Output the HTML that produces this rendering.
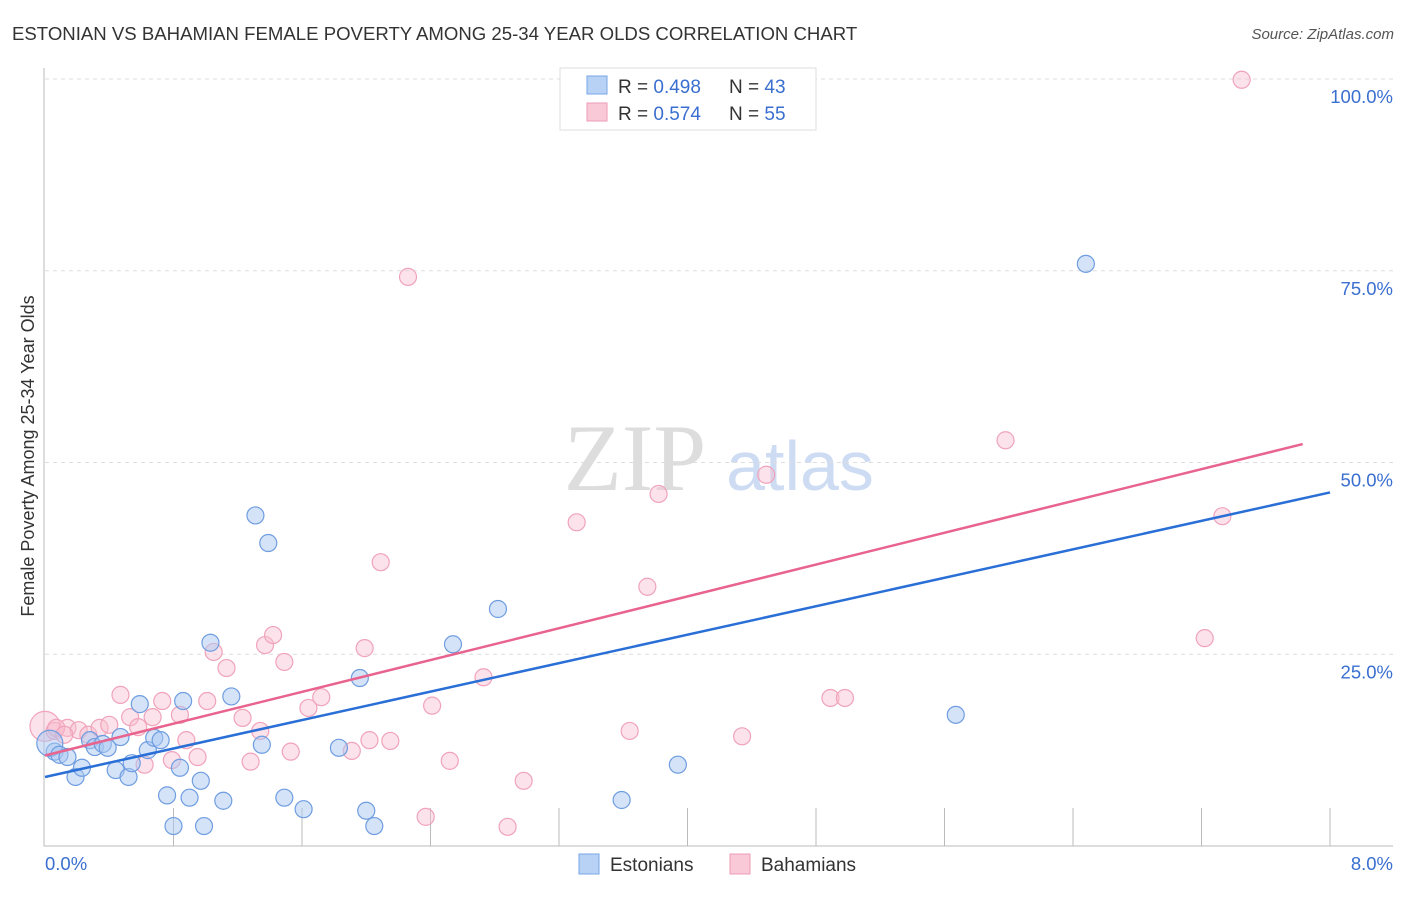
<!DOCTYPE html>
<html><head><meta charset="utf-8"><style>
body{margin:0;background:#fff;font-family:"Liberation Sans",sans-serif}
</style></head><body>
<svg width="1406" height="892" id="c" xmlns="http://www.w3.org/2000/svg">
<text x="12" y="40" font-size="18.6" fill="#333">ESTONIAN VS BAHAMIAN FEMALE POVERTY AMONG 25-34 YEAR OLDS CORRELATION CHART</text>
<text x="1394" y="39" font-size="15" fill="#555" font-style="italic" text-anchor="end">Source: ZipAtlas.com</text>
<text x="635" y="490" font-size="95" fill="#ddd" font-family="Liberation Serif" text-anchor="middle">ZIP</text>
<text x="800" y="490" font-size="70" fill="#cddcf3" text-anchor="middle">atlas</text>
<g id="grid"></g><g id="pts"></g><g id="lines"></g>
<text transform="translate(34,456) rotate(-90)" font-size="18" fill="#333" text-anchor="middle">Female Poverty Among 25-34 Year Olds</text>
<rect x="560" y="68" width="256" height="62" fill="#fff" stroke="#ddd"/>
<rect x="587" y="76" width="20" height="18" fill="#b8d2f5" stroke="#7aa6e6"/>
<rect x="587" y="103" width="20" height="18" fill="#f9c9d8" stroke="#ee9bb5"/>
<text x="618" y="93" font-size="19" fill="#333">R = <tspan fill="#3a6fd0">0.498</tspan></text>
<text x="729" y="93" font-size="19" fill="#333">N = <tspan fill="#3a6fd0">43</tspan></text>
<text x="618" y="120" font-size="19" fill="#333">R = <tspan fill="#3a6fd0">0.574</tspan></text>
<text x="729" y="120" font-size="19" fill="#333">N = <tspan fill="#3a6fd0">55</tspan></text>
<rect x="579" y="854" width="20" height="20" fill="#b8d2f5" stroke="#7aa6e6"/>
<text x="610" y="871" font-size="19" fill="#333">Estonians</text>
<rect x="730" y="854" width="20" height="20" fill="#f9c9d8" stroke="#ee9bb5"/>
<text x="761" y="871" font-size="19" fill="#333">Bahamians</text>
</svg>
<script>
const xTicks=[0,8];
const yTicks=[25,50,75,100];
const estX=[0.06,0.03,0.09,0.14,0.19,0.23,0.28,0.31,0.36,0.39,0.44,0.47,0.52,0.54,0.59,0.64,0.68,0.72,0.76,0.80,0.84,0.86,0.90,0.97,0.99,1.03,1.11,1.16,1.31,1.35,1.39,1.49,1.61,1.83,1.96,2.00,2.05,2.54,2.82,3.59,3.94,5.67,6.48];
const estY=[12.3,13.4,11.9,11.6,9.0,10.2,13.8,12.9,13.3,12.8,9.9,14.2,9.0,10.8,18.5,12.5,14.1,13.8,6.6,2.6,10.2,18.9,6.3,8.5,2.6,26.5,5.9,19.5,43.1,13.2,39.5,6.3,4.8,12.8,21.9,4.6,2.6,26.3,30.9,6.0,10.6,17.1,75.9];
const bahX=[0,0.06,0.14,0.21,0.27,0.34,0.40,0.47,0.53,0.58,0.62,0.67,0.73,0.79,0.84,0.88,0.95,1.01,1.05,1.13,1.23,1.28,1.34,1.37,1.42,1.49,1.53,1.64,1.72,1.91,1.99,2.02,2.09,2.15,2.26,2.37,2.41,2.52,2.73,2.88,2.98,3.31,3.64,3.75,3.82,4.34,4.49,4.89,4.98,5.98,7.22,7.33,7.45,0.07,0.12];
const bahY=[15.6,15.0,15.4,15.1,14.5,15.4,15.8,19.7,16.8,15.5,10.6,16.8,18.9,11.2,17.1,13.8,11.6,18.9,25.3,23.2,16.7,11.0,15.0,26.2,27.5,24.0,12.3,18.0,19.4,12.4,25.8,13.8,37.0,13.7,74.2,3.8,18.3,11.1,22.0,2.5,8.5,42.2,15.0,33.8,45.9,14.3,48.4,19.3,19.3,52.9,27.1,43.0,99.9,15.4,14.5];
const estLine=[[0,9.0],[8,46.1]];
const bahLine=[[0,11.8],[7.83,52.4]];
const sx=v=>45+v/8*1285, sy=v=>846-v/100*767;
const NS="http://www.w3.org/2000/svg";
function mk(t,a,p){const e=document.createElementNS(NS,t);for(const k in a)e.setAttribute(k,a[k]);p.appendChild(e);return e;}
const g=document.getElementById('grid');
yTicks.forEach(v=>{const l=mk('line',{x1:45,x2:1393,y1:sy(v),y2:sy(v),stroke:'#ddd','stroke-dasharray':'4,4'},g);


const t=mk('text',{x:1393,y:sy(v)+24,'font-size':18.5,fill:'#3a6fd0','text-anchor':'end'},g);t.textContent=v.toFixed(1)+'%';

});
for(let i=1;i<=10;i++){const x=sx(i*0.8);const l=mk('line',{x1:x,x2:x,y1:808,y2:846,stroke:'#bbb'},g);

}
const ax=mk('path',{d:'M44 68V846H1393',fill:'none',stroke:'#bbb'},g);


xTicks.forEach((v,i)=>{const t=mk('text',{x:i?1393:45,y:870,'font-size':18.5,fill:'#3a6fd0','text-anchor':i?'end':'start'},g);t.textContent=v.toFixed(1)+'%';

});
const p=document.getElementById('pts');
bahX.forEach((v,i)=>{const c=mk('circle',{cx:sx(v),cy:sy(bahY[i]),r:i==0?15:8.5,fill:'rgba(249,190,208,0.45)',stroke:'#f0a3bb','stroke-width':1.2},p);

});
estX.forEach((v,i)=>{const c=mk('circle',{cx:sx(v),cy:sy(estY[i]),r:i==1?13:8.5,fill:'rgba(170,200,242,0.5)',stroke:'#6f9de0','stroke-width':1.2},p);

});
const L=document.getElementById('lines');
const a=mk('line',{x1:sx(estLine[0][0]),y1:sy(estLine[0][1]),x2:sx(estLine[1][0]),y2:sy(estLine[1][1]),stroke:'#2a6fd6','stroke-width':2.5},L);


const b=mk('line',{x1:sx(bahLine[0][0]),y1:sy(bahLine[0][1]),x2:sx(bahLine[1][0]),y2:sy(bahLine[1][1]),stroke:'#e8648f','stroke-width':2.5},L);


</script>
</body></html>
